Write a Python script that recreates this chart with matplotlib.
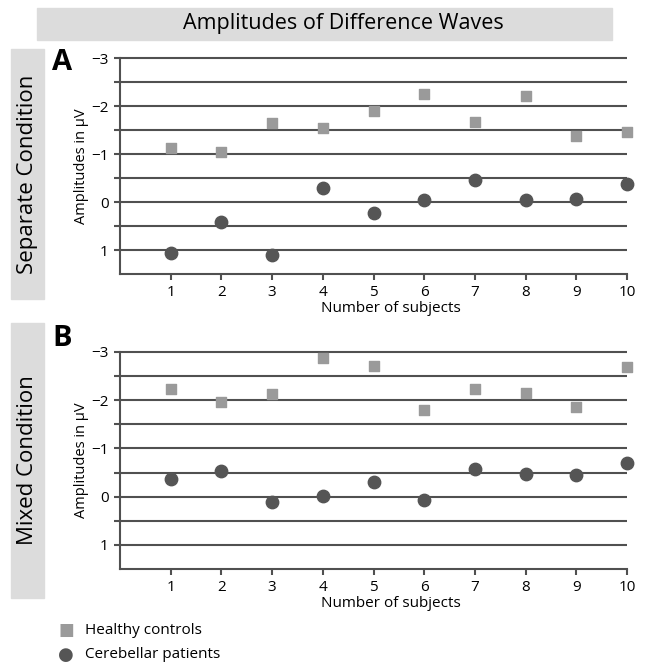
import matplotlib
matplotlib.use('Agg')
import matplotlib.pyplot as plt
from matplotlib.patches import Rectangle

plt.rcParams['font.family'] = ['Open Sans', 'DejaVu Sans']

# data
subjects = [1, 2, 3, 4, 5, 6, 7, 8, 9, 10]
sep_healthy = [-1.12, -1.05, -1.65, -1.54, -1.90, -2.24, -1.67, -2.20, -1.37, -1.46]
sep_patients = [1.06, 0.42, 1.11, -0.29, 0.23, -0.05, -0.45, -0.04, -0.06, -0.37]
mix_healthy = [-2.23, -1.96, -2.12, -2.88, -2.72, -1.79, -2.23, -2.15, -1.85, -2.69]
mix_patients = [-0.37, -0.54, 0.12, -0.02, -0.30, 0.07, -0.57, -0.47, -0.45, -0.70]
grid_vals = [-3, -2.5, -2, -1.5, -1, -0.5, 0, 0.5, 1]
ytick_vals = [-3, -2, -1, 0, 1]
ytick_labels = ['\u22123', '\u22122', '\u22121', '0', '1']

line_col = '#505050'
healthy_col = '#9a9a9a'
patient_col = '#555555'
box_col = '#dcdcdc'

fig = plt.figure(figsize=(6.45, 6.65), dpi=100)

# title band
fig.patches.append(Rectangle((37/645, 1-40/665), 575/645, 32/665,
                             transform=fig.transFigure, color=box_col, zorder=0))
fig.text(343/645, 1-24/665, 'Amplitudes of Difference Waves', ha='center', va='center',
         fontsize=15.5)

panels = [
    ('A', 'Separate Condition', sep_healthy, sep_patients, 58, 274, 49, 299, 62),
    ('B', 'Mixed Condition', mix_healthy, mix_patients, 352, 569, 323, 598, 338),
]

for letter, cond, healthy, patients, top, bot, btop, bbot, ly in panels:
    ax = fig.add_axes([120/645, 1-bot/665, 507/645, (bot-top)/665])
    ax.set_xlim(0, 10)
    ax.set_ylim(1.5, -3)
    ax.hlines(grid_vals, 0, 10, color=line_col, lw=1.5, clip_on=False, zorder=1)
    ax.scatter(subjects, healthy, marker='s', s=62, color=healthy_col, zorder=3, clip_on=False)
    ax.scatter(subjects, patients, marker='o', s=80, color=patient_col, zorder=3, clip_on=False)
    for s in ['top', 'right']:
        ax.spines[s].set_visible(False)
    for s in ['left', 'bottom']:
        ax.spines[s].set_color(line_col)
        ax.spines[s].set_linewidth(1.5)
    ax.set_yticks(grid_vals, minor=True)
    ax.set_yticks(ytick_vals)
    ax.set_yticklabels(ytick_labels, fontsize=11)
    ax.set_xticks(subjects)
    ax.set_xticklabels([str(v) for v in subjects], fontsize=11)
    ax.tick_params(axis='both', which='both', direction='out', length=4, width=1.5,
                   color=line_col, pad=4)
    ax.tick_params(axis='y', which='minor', length=4)
    ax.set_ylabel('Amplitudes in \u00b5V', fontsize=10.5, labelpad=2)
    ax.set_xlabel('Number of subjects', fontsize=11)
    ax.xaxis.set_label_coords(0.535, -0.125)

    # side label box
    fig.patches.append(Rectangle((11/645, 1-bbot/665), 33/645, (bbot-btop)/665,
                                 transform=fig.transFigure, color=box_col, zorder=0))
    fig.text(28/645, 1-(btop+bbot)/2/665, cond, rotation=90, ha='center', va='center',
             fontsize=16)
    fig.text(52/645, 1-ly/665, letter, fontsize=21, fontweight='bold',
             ha='left', va='center')

# legend
fig.text(66/645, 1-630/665, '\u25a0', color=healthy_col, fontsize=12, ha='center',
         va='center', family='DejaVu Sans')
fig.text(85/645, 1-630/665, 'Healthy controls', fontsize=11, va='center')
fig.text(66/645, 1-655/665, '\u25cf', color=patient_col, fontsize=13, ha='center',
         va='center', family='DejaVu Sans')
fig.text(85/645, 1-655/665, 'Cerebellar patients', fontsize=11, va='center')

fig.savefig('out.png', dpi=100)
